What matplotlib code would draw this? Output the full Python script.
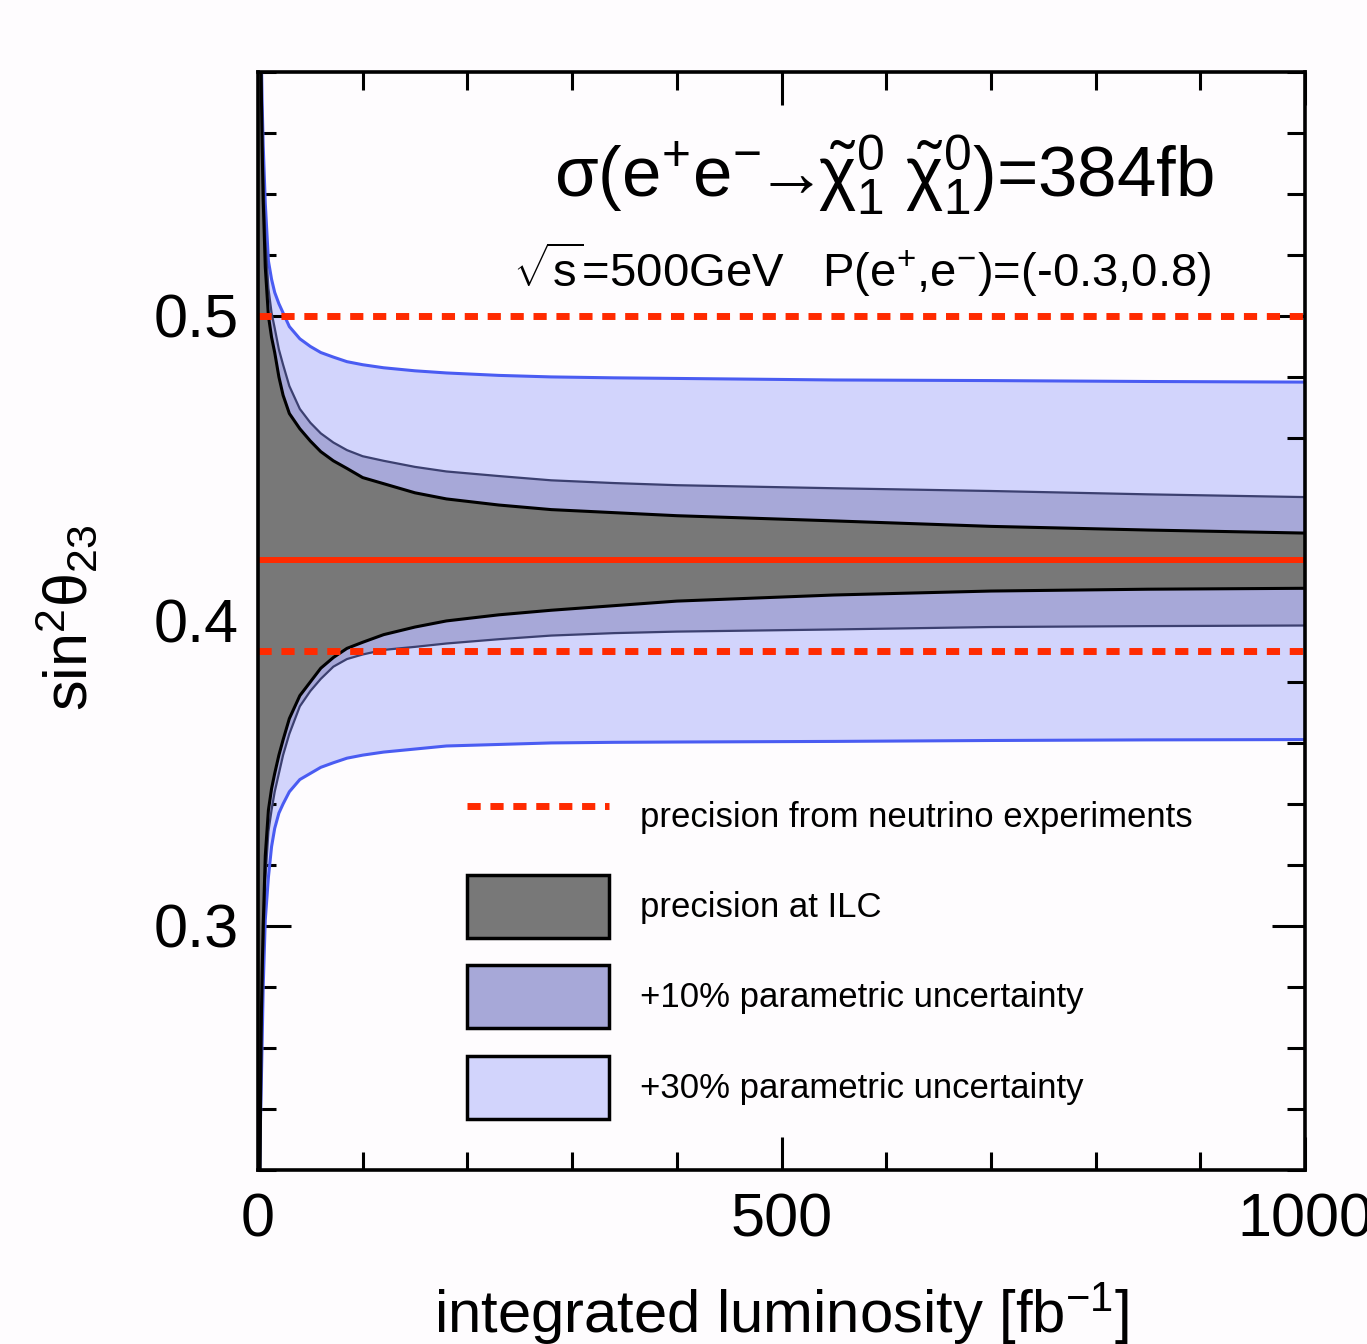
import numpy as np
import matplotlib
matplotlib.use('Agg')
import matplotlib.pyplot as plt
from matplotlib.lines import Line2D
from matplotlib.patches import Patch

# values
lumi = [1, 2, 3, 4, 5, 7, 10, 13, 16, 20, 24, 30, 40, 50, 60, 72, 85, 100, 120, 150,
        180, 230, 280, 340, 400, 550, 700, 850, 1000]

ilc_upper = [0.75, 0.62, 0.58, 0.555, 0.538, 0.516, 0.500, 0.493, 0.488, 0.480, 0.474,
             0.468, 0.463, 0.459, 0.4555, 0.4525, 0.450, 0.447, 0.445, 0.442, 0.440,
             0.438, 0.4365, 0.4355, 0.4345, 0.4328, 0.431, 0.4298, 0.4288]
ilc_lower = [0.10, 0.22, 0.265, 0.285, 0.300, 0.323, 0.338, 0.345, 0.350, 0.356, 0.361,
             0.368, 0.3755, 0.380, 0.3845, 0.388, 0.391, 0.393, 0.3955, 0.398, 0.400,
             0.402, 0.4035, 0.405, 0.4065, 0.4085, 0.4098, 0.4104, 0.4107]

p10_upper = [0.76, 0.63, 0.59, 0.563, 0.547, 0.525, 0.509, 0.501, 0.496, 0.489, 0.484,
             0.477, 0.4695, 0.465, 0.4615, 0.4585, 0.456, 0.454, 0.4525, 0.4505, 0.449,
             0.4475, 0.4461, 0.4452, 0.4445, 0.4435, 0.4426, 0.4415, 0.4406]
p10_lower = [0.09, 0.21, 0.255, 0.277, 0.292, 0.315, 0.331, 0.338, 0.344, 0.350, 0.356,
             0.363, 0.372, 0.377, 0.381, 0.385, 0.3875, 0.389, 0.3905, 0.3915, 0.3926,
             0.394, 0.3952, 0.396, 0.3965, 0.3972, 0.398, 0.3983, 0.3985]

p30_upper = [0.70, 0.62, 0.59, 0.57, 0.556, 0.537, 0.518, 0.512, 0.5077, 0.504, 0.501,
             0.4965, 0.4925, 0.490, 0.488, 0.4865, 0.485, 0.484, 0.483, 0.482, 0.4813,
             0.4805, 0.480, 0.4797, 0.4795, 0.479, 0.4788, 0.4785, 0.4783]
p30_lower = [0.20, 0.23, 0.245, 0.262, 0.280, 0.302, 0.316, 0.326, 0.332, 0.337, 0.340,
             0.344, 0.348, 0.350, 0.352, 0.3535, 0.355, 0.356, 0.357, 0.358, 0.359,
             0.3595, 0.360, 0.3602, 0.3603, 0.3605, 0.3608, 0.361, 0.3611]

central_value = 0.42
neutrino_bounds = [0.39, 0.5]

legend_labels = ['precision from neutrino experiments', 'precision at ILC',
                 '+10% parametric uncertainty', '+30% parametric uncertainty']

c_dark = '#787878'
c_mid = '#a7a8d8'
c_light = '#d2d4fc'
c_blue = '#4a5cf2'
c_navy = '#3c4070'
c_red = '#ff2a00'

plt.rcParams['font.family'] = ['Liberation Sans', 'DejaVu Sans']
plt.rcParams['mathtext.fontset'] = 'custom'
plt.rcParams['mathtext.rm'] = 'Liberation Sans'
plt.rcParams['mathtext.it'] = 'Liberation Sans:italic'
plt.rcParams['mathtext.bf'] = 'Liberation Sans:bold'

fig = plt.figure(figsize=(13.67, 13.44), dpi=100)
fig.patch.set_facecolor('#fefcfe')
ax = fig.add_axes([0.1887, 0.1295, 0.766, 0.817])
ax.set_facecolor('#fefcfe')

x = np.array(lumi)

ax.fill_between(x, p30_lower, p30_upper, color=c_light, lw=0, zorder=1)
ax.plot(x, p30_upper, color=c_blue, lw=2.2, zorder=2)
ax.plot(x, p30_lower, color=c_blue, lw=2.2, zorder=2)

ax.fill_between(x, p10_lower, p10_upper, color=c_mid, lw=0, zorder=3)
ax.plot(x, p10_upper, color=c_navy, lw=1.6, zorder=4)
ax.plot(x, p10_lower, color=c_navy, lw=1.6, zorder=4)

ax.fill_between(x, ilc_lower, ilc_upper, color=c_dark, lw=0, zorder=5)
ax.plot(x, ilc_upper, color='black', lw=2.2, zorder=6)
ax.plot(x, ilc_lower, color='black', lw=2.2, zorder=6)

ax.axhline(central_value, color=c_red, lw=4.3, zorder=7)
for b in neutrino_bounds:
    ax.axhline(b, color=c_red, lw=5, linestyle=(0, (1.9, 1.4)), zorder=7)

ax.set_xlim(0, 1000)
ax.set_ylim(0.22, 0.58)
ax.set_xticks([0, 500, 1000])
ax.set_xticks(np.arange(0, 1001, 100), minor=True)
ax.set_yticks([0.3, 0.4, 0.5])
ax.set_yticklabels(['0.3', '0.4', '0.5'])
ax.set_yticks(np.arange(0.22, 0.581, 0.02), minor=True)
ax.tick_params(which='both', direction='in', top=True, right=True, width=2.2)
ax.tick_params(which='major', length=24, labelsize=44)
ax.tick_params(which='minor', length=13)
ax.tick_params(axis='x', pad=16)
ax.tick_params(axis='y', pad=14)
for s in ax.spines.values():
    s.set_linewidth(2.6)
    s.set_zorder(10)

ax.set_xlabel(r'integrated luminosity [fb$^{\mathregular{-1}}$]', fontsize=43)
ax.xaxis.set_label_coords(0.5, -0.1)
ax.set_ylabel(r'sin$^{\mathregular{2}}$θ$_{\mathregular{23}}$', fontsize=44)
ax.yaxis.set_label_coords(-0.15, 0.503)

ax.text(0.5975, 0.886,
        r'σ(e$^{\mathregular{+}}$e$^{\mathregular{-}}$$\!\!\rightarrow\!\!$'
        r'$\tilde{\mathrm{\chi}}_{\mathregular{1}}^{\mathregular{0}}$ '
        r'$\tilde{\mathrm{\chi}}_{\mathregular{1}}^{\mathregular{0}}$)=384fb',
        transform=ax.transAxes, ha='center', va='baseline', fontsize=51, zorder=11)
ax.text(0.577, 0.804,
        r'$\sqrt{\mathrm{s}}$=500GeV   P(e$^{\mathregular{+}}$,e$^{\mathregular{-}}$)=(-0.3,0.8)',
        transform=ax.transAxes, ha='center', va='baseline', fontsize=34, zorder=11)

handles = [Line2D([], [], color=c_red, lw=5, linestyle=(0, (1.9, 1.4))),
           Patch(facecolor=c_dark, edgecolor='black', lw=2.5),
           Patch(facecolor=c_mid, edgecolor='black', lw=2.5),
           Patch(facecolor=c_light, edgecolor='black', lw=2.5)]
leg = ax.legend(handles, legend_labels, loc='upper left', bbox_to_anchor=(0.1996, 0.351),
                frameon=False, borderpad=0, borderaxespad=0, handlelength=4.09,
                handleheight=2.4, labelspacing=0.8, handletextpad=0.9,
                prop={'size': 25})
leg.set_zorder(11)

fig.savefig('out.png', dpi=100, facecolor=fig.get_facecolor())
